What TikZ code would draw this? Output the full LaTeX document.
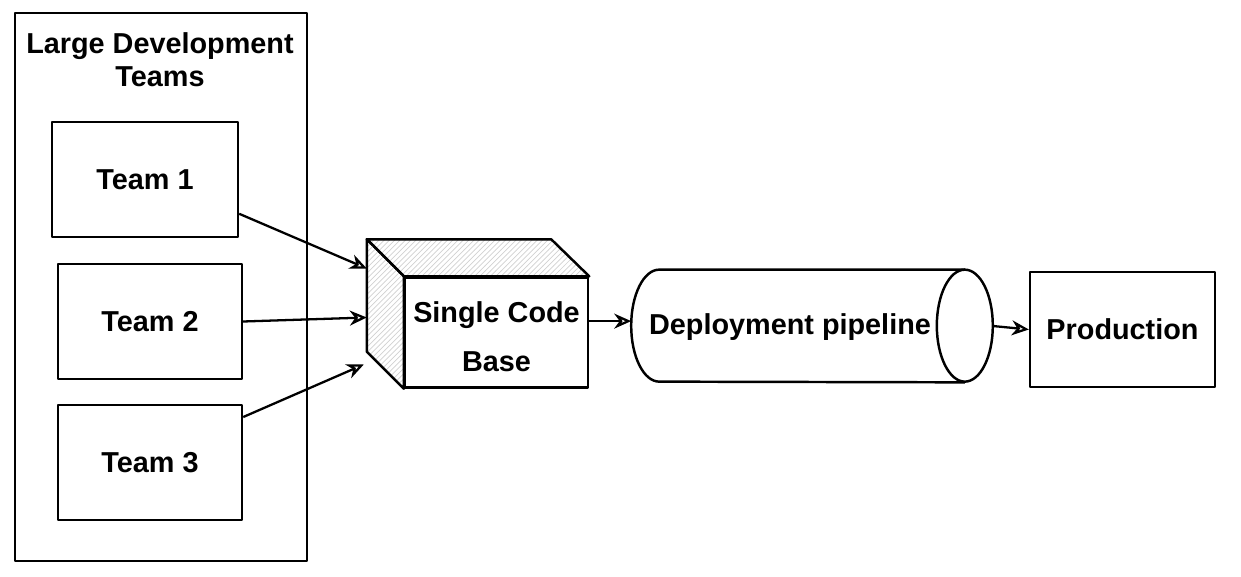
\documentclass[tikz,border=0pt]{standalone}
\usepackage{fontspec}
\setmainfont{Liberation Sans}
\usetikzlibrary{arrows.meta,positioning,calc,shapes.geometric,patterns}

\begin{document}
\begin{tikzpicture}[x=0.02cm,y=-0.02cm,
  font=\bfseries\fontsize{16.4}{19}\selectfont,
  sketch/.style={draw,line width=1.4pt,line join=round},
  teambox/.style={sketch,minimum width=3.7cm,minimum height=2.3cm},
  hatch/.style={sketch,pattern=north east lines,pattern color=black!18},
  flow/.style={-{Stealth[open,length=3.4mm,width=3mm]},line width=1.3pt}]
\useasboundingbox (0,0) rectangle (1241,577);
\node[sketch,minimum width=5.84cm,minimum height=10.96cm] (teams) at (161,287) {};
\node[align=center] (title) at (160,60) {Large Development\\Teams};
\node[teambox,minimum width=3.72cm] (team1) at (145,179.5) {Team 1};
\node[teambox,minimum width=3.68cm] (team2) at (150,321.5) {Team 2};
\node[teambox,minimum width=3.68cm] (team3) at (150,462.5) {Team 3};
% cube: front face is the node, top and side drawn from its corners
\node[sketch,minimum width=3.66cm,minimum height=2.2cm,align=center,
      font=\bfseries\fontsize{16.4}{24}\selectfont] (code) at (496.5,332.5)
      {\rule{0pt}{0.58cm}Single Code\\[0.134cm]Base};
\draw[hatch] (code.north west) -- ++(-37,-37) -- ($(code.north east)+(-38,-37)$)
      -- (code.north east) -- cycle;                       % top face
\draw[hatch] (code.north west) -- ++(-37,-37) -- ($(code.south west)+(-37,-37)$)
      -- (code.south west) -- cycle;                       % side face
\coordinate (in1) at ($(code.west)+(-37,-64)$);
\coordinate (in2) at ($(code.west)+(-37,-15)$);
\coordinate (in3) at ($(code.west)+(-40,32)$);
% pipe: outline drawn round an empty box
\node[minimum width=7.22cm,minimum height=2.24cm] (pipe) at (812,326) {};
\draw[sketch] ($(pipe.north east)+(-28,0)$) arc[start angle=90,end angle=450,
      x radius=0.56cm,y radius=1.12cm];                    % front end
\draw[sketch] ($(pipe.north east)+(-28,0)$) -- ($(pipe.north west)+(28,0)$)
      arc[start angle=90,end angle=270,x radius=0.56cm,y radius=1.12cm]
      -- ($(pipe.south east)+(-28,0)$);
\node (pipetxt) at (790,327) {Deployment pipeline};
\node[teambox] (prod) at (1122.5,329.5) {Production};
\draw[flow] (team1.-20) -- (in1);
\draw[flow] (team2.east) -- (in2);
\draw[flow] (team3.26) -- (in3);
\draw[flow] (code.7) -- (code.7 -| pipe.west);
\draw[flow] (pipe.east) -- (prod.west);
\end{tikzpicture}
\end{document}
